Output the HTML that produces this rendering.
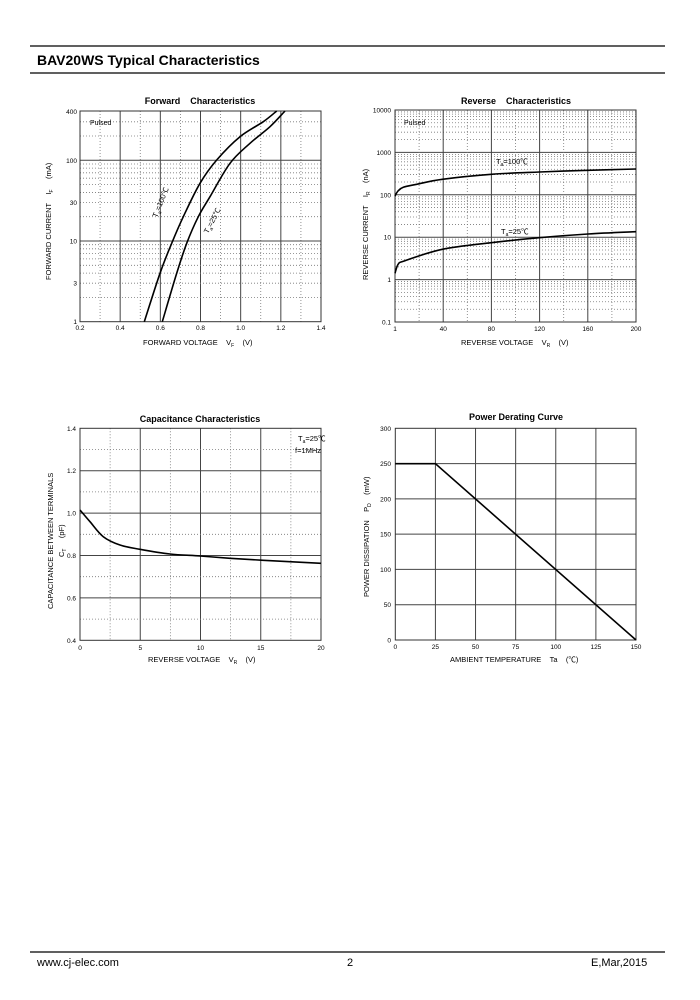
<!DOCTYPE html>
<html><head><meta charset="utf-8"><style>
body{margin:0;background:#fff;}
svg{display:block;font-family:"Liberation Sans",Arial,"Noto Sans CJK SC",sans-serif;}
</style></head><body>
<svg id="s" width="700" height="1000" viewBox="0 0 700 1000" xmlns="http://www.w3.org/2000/svg">
<line x1="30" y1="46" x2="665" y2="46" stroke="#000" stroke-width="1.2"/>
<line x1="30" y1="73" x2="665" y2="73" stroke="#000" stroke-width="1.2"/>
<text x="37" y="65" font-size="14" font-weight="bold">BAV20WS Typical Characteristics</text>
<line x1="30" y1="952" x2="665" y2="952" stroke="#000" stroke-width="1.2"/>
<text x="37" y="966" font-size="11">www.cj-elec.com</text>
<text x="347" y="966" font-size="11">2</text>
<text x="591" y="966" font-size="11">E,Mar,2015</text>
<g id="g"></g>
</svg>
<script>
var g=document.getElementById('g'),h='';
function L(x1,y1,x2,y2,dot,w){h+='<line x1="'+x1+'" y1="'+y1+'" x2="'+x2+'" y2="'+y2+'" stroke="'+(dot?'#777':'#444')+'" stroke-width="'+(w||(dot?0.8:1))+'"'+(dot?' stroke-dasharray="1,2"':'')+'/>';}
function T(x,y,s,sz,a,extra){h+='<text x="'+x+'" y="'+y+'" font-size="'+(sz||7)+'" text-anchor="'+(a||'start')+'" '+(extra||'')+'>'+s+'</text>';}
function P(p){var d='M'+p[0][0]+','+p[0][1];for(var i=0;i<p.length-1;i++){var p0=p[i-1]||p[i],p1=p[i],p2=p[i+1],p3=p[i+2]||p2;
var c1=[p1[0]+(p2[0]-p0[0])/6,p1[1]+(p2[1]-p0[1])/6],c2=[p2[0]-(p3[0]-p1[0])/6,p2[1]-(p3[1]-p1[1])/6];
d+=' C'+c1[0].toFixed(2)+','+c1[1].toFixed(2)+' '+c2[0].toFixed(2)+','+c2[1].toFixed(2)+' '+p2[0]+','+p2[1];}
h+='<path fill="none" stroke="#000" stroke-width="1.6" d="'+d+'"/>';}
function box(x1,y1,x2,y2){h+='<rect x="'+x1+'" y="'+y1+'" width="'+(x2-x1)+'" height="'+(y2-y1)+'" fill="none" stroke="#333" stroke-width="1"/>';}
// Forward
var fx0=80,fx1=321,fy0=111,fy1=321.7;
function fy(v){return fy1-80.7*Math.log10(v);}
for(var i=1;i<12;i++){var x=fx0+i*(fx1-fx0)/12;L(x,fy0,x,fy1,i%2==1);}
[2,3,4,5,6,7,8,9,20,30,40,50,60,70,80,90,200,300].forEach(v=>L(fx0,fy(v),fx1,fy(v),true));
[10,100].forEach(v=>L(fx0,fy(v),fx1,fy(v),false));
box(fx0,fy0,fx1,fy1);
[[400,400],[100,100],[30,30],[10,10],[3,3],[1,1]].forEach(a=>T(77,fy(a[0])+2.5,a[1],6.5,'end'));
['0.2','0.4','0.6','0.8','1.0','1.2','1.4'].forEach((s,i)=>T(fx0+i*(fx1-fx0)/6,330,s,6.5,'middle'));
T(200,104,'Forward&#160;&#160;&#160;&#160;Characteristics',9,'middle','font-weight="bold"');
T(90,125,'Pulsed',7);
T(143,345,'FORWARD VOLTAGE&#160;&#160;&#160;&#160;V<tspan font-size="5" dy="2">F</tspan><tspan dy="-2">&#160;&#160;&#160;&#160;(V)</tspan>',7.5);
T(51,280,'FORWARD CURRENT&#160;&#160;&#160;&#160;I<tspan font-size="5" dy="2">F</tspan><tspan dy="-2">&#160;&#160;&#160;&#160;&#160;(mA)</tspan>',7.5,'start','transform="rotate(-90 51 280)"');
P([[144.3,321.7],[160,273.3],[171.7,243.3],[183.3,216.7],[200,183.3],[216.7,160],[240,136.7],[263.3,121.7],[276.7,111]]);
P([[162.3,321.7],[176.7,273.3],[186.7,243.3],[198.3,216.7],[210,196.7],[230,163.3],[250,143.3],[270,126.7],[285,111]]);
T(157,218,'T<tspan font-size="5" dy="2">a</tspan><tspan dy="-2">=100℃</tspan>',7.5,'start','transform="rotate(-68 157 218)"');
T(208,234,'T<tspan font-size="5" dy="2">a</tspan><tspan dy="-2">=25℃</tspan>',7.5,'start','transform="rotate(-62 208 234)"');
// Reverse
var rx0=395,rx1=636,ry0=110,ry1=322;
function ry(v){return ry1-42.4*Math.log10(v/0.1);}
for(var d=0.1;d<5000;d*=10){for(var k=2;k<10;k++)L(rx0,ry(d*k),rx1,ry(d*k),true);}
[1,10,100,1000].forEach(v=>L(rx0,ry(v),rx1,ry(v),false));
for(var i=1;i<10;i++){var x=rx0+i*(rx1-rx0)/10;L(x,ry0,x,ry1,i%2==1);}
box(rx0,ry0,rx1,ry1);
[['10000',10000],['1000',1000],['100',100],['10',10],['1',1],['0.1',0.1]].forEach(a=>T(391,ry(a[1])+2.5,a[0],6.5,'end'));
['1','40','80','120','160','200'].forEach((s,i)=>T(rx0+i*(rx1-rx0)/5,331,s,6.5,'middle'));
T(516,104,'Reverse&#160;&#160;&#160;&#160;Characteristics',9,'middle','font-weight="bold"');
T(404,125,'Pulsed',7);
T(461,345,'REVERSE VOLTAGE&#160;&#160;&#160;&#160;V<tspan font-size="5" dy="2">R</tspan><tspan dy="-2">&#160;&#160;&#160;&#160;(V)</tspan>',7.5);
T(368,280,'REVERSE CURRENT&#160;&#160;&#160;&#160;I<tspan font-size="5" dy="2">R</tspan><tspan dy="-2">&#160;&#160;&#160;&#160;(nA)</tspan>',7.5,'start','transform="rotate(-90 368 280)"');
P([[395,196],[398,191],[403.3,187.3],[416.7,184.3],[442.3,179.3],[491.3,174.3],[539.3,172],[588,170.3],[636,169]]);
P([[395,273.3],[398.3,264],[405,260.7],[442.3,249.3],[491.3,242.7],[539.3,237.7],[588,234],[636,231.7]]);
T(496,164,'T<tspan font-size="5" dy="2">a</tspan><tspan dy="-2">=100℃</tspan>',7.5);
T(501,234,'T<tspan font-size="5" dy="2">a</tspan><tspan dy="-2">=25℃</tspan>',7.5);
// Capacitance
var cx0=80,cx1=321,cy0=428.3,cy1=640.3;
for(var i=1;i<8;i++){var x=cx0+i*(cx1-cx0)/8;L(x,cy0,x,cy1,i%2==1);}
for(var i=1;i<10;i++){var y=cy0+i*(cy1-cy0)/10;L(cx0,y,cx1,y,i%2==1);}
box(cx0,cy0,cx1,cy1);
['1.4','1.2','1.0','0.8','0.6','0.4'].forEach((s,i)=>T(76,cy0+i*(cy1-cy0)/5+2.5,s,6.5,'end'));
['0','5','10','15','20'].forEach((s,i)=>T(cx0+i*(cx1-cx0)/4,650,s,6.5,'middle'));
T(200,422,'Capacitance Characteristics',9,'middle','font-weight="bold"');
T(298,441,'T<tspan font-size="5" dy="2">a</tspan><tspan dy="-2">=25℃</tspan>',7.5);
T(295,453,'f=1MHz',7.5);
T(148,662,'REVERSE VOLTAGE&#160;&#160;&#160;&#160;V<tspan font-size="5" dy="2">R</tspan><tspan dy="-2">&#160;&#160;&#160;&#160;(V)</tspan>',7.5);
T(53,609,'CAPACITANCE BETWEEN TERMINALS',7.5,'start','transform="rotate(-90 53 609)"');
T(64,557,'C<tspan font-size="5" dy="2">T</tspan><tspan dy="-2">&#160;&#160;&#160;&#160;&#160;(pF)</tspan>',7.5,'start','transform="rotate(-90 64 557)"');
P([[80,510],[90,521.7],[103.3,536.7],[120,545],[140,549.3],[170,554],[200,556],[230,558.3],[263.3,560.3],[321,563.3]]);
// Power
var px0=395.3,px1=636,py0=428.3,py1=640;
for(var i=1;i<6;i++){var x=px0+i*(px1-px0)/6;L(x,py0,x,py1,false);}
for(var i=1;i<6;i++){var y=py0+i*(py1-py0)/6;L(px0,y,px1,y,false);}
box(px0,py0,px1,py1);
['300','250','200','150','100','50','0'].forEach((s,i)=>T(391,py0+i*(py1-py0)/6+2.5,s,6.5,'end'));
['0','25','50','75','100','125','150'].forEach((s,i)=>T(px0+i*(px1-px0)/6,649,s,6.5,'middle'));
T(516,420,'Power Derating Curve',9,'middle','font-weight="bold"');
T(450,662,'AMBIENT TEMPERATURE&#160;&#160;&#160;&#160;Ta&#160;&#160;&#160;&#160;(℃)',7.5);
T(369,597,'POWER DISSIPATION&#160;&#160;&#160;&#160;P<tspan font-size="5" dy="2">D</tspan><tspan dy="-2">&#160;&#160;&#160;&#160;(mW)</tspan>',7.5,'start','transform="rotate(-90 369 597)"');
h+='<polyline fill="none" stroke="#000" stroke-width="1.6" points="395.3,463.7 435.4,463.7 636,640"/>';
g.innerHTML=h;
</script>
</body></html>
